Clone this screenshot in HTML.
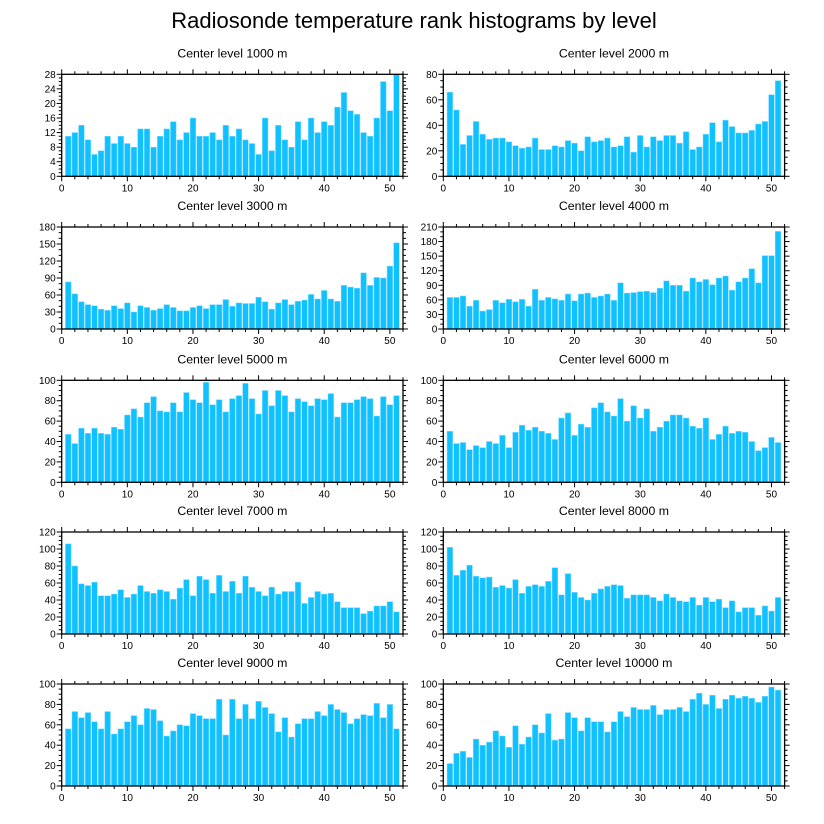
<!DOCTYPE html>
<html><head><meta charset="utf-8">
<style>
html,body{margin:0;padding:0;background:#fff;}
svg{display:block;font-family:"Liberation Sans",sans-serif;}
</style></head>
<body>
<svg id="chart" width="824" height="824" viewBox="0 0 824 824">
<text x="414" y="28" text-anchor="middle" font-size="22">Radiosonde temperature rank histograms by level</text>
</svg>
<script>
const levels = ["1000","2000","3000","4000","5000","6000","7000","8000","9000","10000"];
const v1000 = [11,12,14,10,6,7,11,9,11,9,8,13,13,8,11,13,15,10,12,16,11,11,12,10,14,11,13,10,9,6,16,7,14,10,8,15,10,16,12,15,14,19,23,18,17,12,11,16,26,18,28];
const v2000 = [66,52,25,32,43,33,29,30,30,27,24,22,23,30,21,21,24,23,28,26,20,31,27,28,30,23,24,31,19,32,23,31,28,32,32,26,35,21,23,33,42,27,44,39,34,34,36,41,43,64,75];
const v3000 = [83,62,48,43,41,35,33,41,36,46,30,41,38,33,36,43,38,32,32,38,41,36,43,43,52,40,46,45,45,56,48,35,46,52,43,49,51,61,53,68,53,49,77,74,72,99,77,91,90,111,152];
const v4000 = [65,65,68,47,59,37,40,59,54,61,56,61,47,82,59,65,62,59,72,58,72,74,65,68,72,59,95,74,75,77,78,75,84,99,90,90,78,105,97,102,91,105,109,80,97,105,124,95,151,151,201];
const v5000 = [47,38,53,48,53,48,47,54,52,66,72,64,78,84,70,69,78,69,88,81,78,98,76,81,69,82,85,97,82,67,90,75,90,85,69,82,79,75,82,81,87,64,78,78,81,84,82,65,84,76,85];
const v6000 = [50,38,39,32,36,34,40,38,46,34,49,56,51,54,50,48,42,63,68,46,57,54,73,78,69,65,82,60,75,63,72,50,54,60,66,66,63,55,53,63,42,47,55,48,50,49,40,31,34,44,39];
const v7000 = [106,80,59,57,61,45,45,47,52,43,47,57,50,48,52,50,41,54,64,45,68,64,48,69,50,62,48,68,55,50,45,55,47,50,50,61,36,43,50,47,48,38,31,31,31,24,27,33,33,38,26];
const v8000 = [102,69,75,81,68,66,67,55,57,54,64,48,56,58,56,62,78,46,71,49,43,40,48,53,56,58,57,42,46,46,46,43,39,47,43,39,38,43,34,43,38,41,31,39,26,31,31,22,33,27,43];
const v9000 = [56,73,67,72,63,56,73,51,56,63,69,60,76,75,64,49,54,60,59,71,69,66,66,85,50,85,66,80,66,83,77,71,53,67,48,61,66,66,73,69,80,75,72,61,66,70,69,81,67,80,56];
const v10000 = [22,32,34,28,46,40,43,54,49,38,59,41,48,60,52,71,45,46,72,67,54,67,63,63,53,63,73,68,77,75,75,79,70,75,75,77,73,85,91,80,89,76,85,89,86,88,86,82,88,97,94];
const yMaxes = [28,80,180,210,100,100,120,120,100,100];
const yStep = [4,20,30,30,20,20,20,20,20,20];
const xTicks = [0,10,20,30,40,50];

const allVals = [v1000,v2000,v3000,v4000,v5000,v6000,v7000,v8000,v9000,v10000];
const NS = "http://www.w3.org/2000/svg";
const svg = document.getElementById('chart');
function mk(tag, attrs, parent){const e=document.createElementNS(NS,tag);for(const k in attrs)e.setAttribute(k,attrs[k]);(parent||svg).appendChild(e);return e;}

const colX = [61.7, 443.3];
const plotW = 403 - 61.7;
const rowY = [74.3, 227, 380.3, 532, 684];
const plotH = 102;

allVals.forEach((vals, p) => {
  const col = p % 2, row = Math.floor(p/2);
  const x0 = colX[col], y0 = rowY[row];
  const ymax = yMaxes[p];
  const xs = v => x0 + v/52*plotW;
  const ys = v => y0 + plotH - v/ymax*plotH;
  const g = mk('g', {});
  
  
  const t = mk('text', {x: x0+plotW/2, y: y0-17, 'text-anchor':'middle', 'font-size':'12.3'}, g);
  t.textContent = 'Center level ' + levels[p] + ' m';
  
  
  vals.forEach((v, i) => {
    const c = i + 1;
    const r = mk('rect', {x: xs(c-0.43), y: ys(v), width: xs(0.86)-x0, height: ys(0)-ys(v), fill:'#10c0ff', stroke:'#7fdcff', 'stroke-width':'0.5'}, g);
    
    
  });
  const f = mk('rect', {x:x0, y:y0, width:plotW, height:plotH, fill:'none', stroke:'#000', 'stroke-width':'1.3'}, g);
  
  
  for (let v = 0; v <= 52; v += 2) {
    const major = v % 10 === 0;
    const L = major ? 5 : 3;
    const X = xs(v);
    mk('line', {x1:X, x2:X, y1:y0+plotH, y2:y0+plotH+L, stroke:'#000', 'stroke-width':'1'}, g);
    mk('line', {x1:X, x2:X, y1:y0, y2:y0-L, stroke:'#000', 'stroke-width':'1'}, g);
  }
  xTicks.forEach(v => {
    const tl = mk('text', {x: xs(v), y: y0+plotH+15, 'text-anchor':'middle', 'font-size':'10'}, g);
    tl.textContent = v;
    
    
  });
  const step = yStep[p];
  const minor = step === 30 ? 10 : step/4;
  for (let v = 0; v <= ymax + 1e-6; v += minor) {
    const isMajor = Math.abs(v/step - Math.round(v/step)) < 1e-6;
    const L = isMajor ? 5 : 3;
    const Y = ys(v);
    mk('line', {x1:x0, x2:x0-L, y1:Y, y2:Y, stroke:'#000', 'stroke-width':'1'}, g);
    mk('line', {x1:x0+plotW, x2:x0+plotW+L, y1:Y, y2:Y, stroke:'#000', 'stroke-width':'1'}, g);
  }
  for (let v = 0; v <= ymax + 1e-6; v += step) {
    const tl = mk('text', {x: x0-6, y: ys(v)+3.5, 'text-anchor':'end', 'font-size':'10'}, g);
    tl.textContent = v;
    
    
  }
});
</script>
</body></html>
